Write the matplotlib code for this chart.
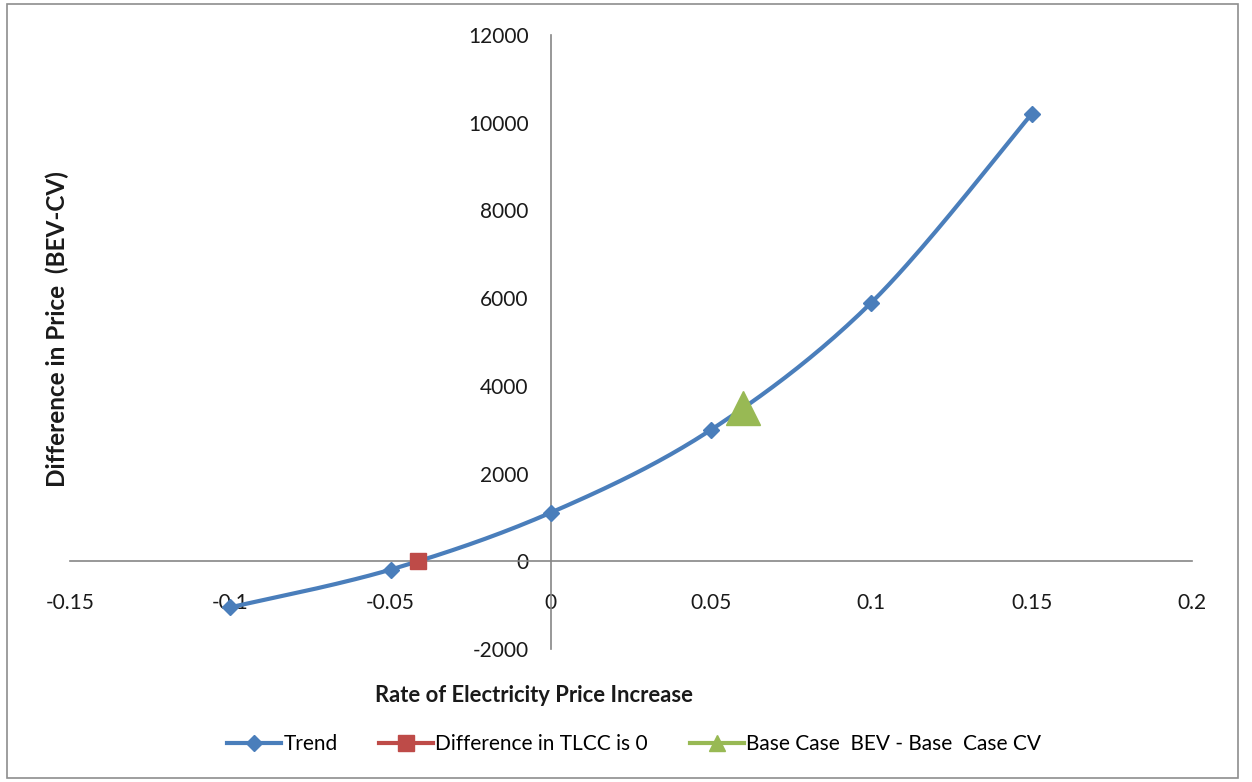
import numpy as np
import matplotlib
matplotlib.use("Agg")
import matplotlib.pyplot as plt
from matplotlib.lines import Line2D
from matplotlib.patches import Rectangle

plt.rcParams['font.family'] = ['Lato', 'DejaVu Sans']

# Rate of electricity price increase vs. price difference (BEV - CV)
rate = [-0.10, -0.05, 0.0, 0.05, 0.10, 0.15]
diff = [-1050, -190, 1110, 3000, 5900, 10200]

zero_rate = [-0.0415]
zero_diff = [0]

base_rate = [0.06]
base_diff = [3500]

x_ticks = [-0.15, -0.1, -0.05, 0, 0.05, 0.1, 0.15, 0.2]
x_tick_labels = ['-0.15', '-0.1', '-0.05', '0', '0.05', '0.1', '0.15', '0.2']
y_ticks = [-2000, 0, 2000, 4000, 6000, 8000, 10000, 12000]
y_tick_labels = ['-2000', '0', '2000', '4000', '6000', '8000', '10000', '12000']

BLUE = '#4A7EBB'
RED = '#BE4B48'
GREEN = '#98B954'
AXIS = '#868686'


def smooth_curve(xs, ys, n=40):
    """Bezier smoothing through the points (spreadsheet-style smoothed line)."""
    p = np.column_stack([xs, ys]).astype(float)
    ext = np.vstack([p[0], p, p[-1]])
    out = []
    t = np.linspace(0, 1, n)[:, None]
    for i in range(len(p) - 1):
        p0, p1 = ext[i + 1], ext[i + 2]
        c1 = p0 + (ext[i + 2] - ext[i]) / 6.0
        c2 = p1 - (ext[i + 3] - ext[i + 1]) / 6.0
        seg = ((1 - t) ** 3) * p0 + 3 * ((1 - t) ** 2) * t * c1 \
            + 3 * (1 - t) * t ** 2 * c2 + t ** 3 * p1
        out.append(seg if i == 0 else seg[1:])
    out = np.vstack(out)
    return out[:, 0], out[:, 1]


fig = plt.figure(figsize=(12.52, 7.82), dpi=100)
W, H = 1252, 782

# chart frame
fig.patches.append(Rectangle((7 / W, 4 / H), (1238 - 7) / W, (778 - 4) / H,
                             transform=fig.transFigure, fill=False,
                             edgecolor='#8E8E8E', linewidth=1.2))

ax = fig.add_axes([70 / W, (H - 649) / H, (1192 - 70) / W, (649 - 35) / H])
ax.set_xlim(-0.15, 0.2)
ax.set_ylim(-2000, 12000)

for s in ('top', 'right'):
    ax.spines[s].set_visible(False)
ax.spines['left'].set_position(('data', 0))
ax.spines['bottom'].set_position(('data', 0))
for s in ('left', 'bottom'):
    ax.spines[s].set_color(AXIS)
    ax.spines[s].set_linewidth(1.2)

ax.set_xticks(x_ticks)
ax.set_xticklabels(x_tick_labels)
ax.set_yticks(y_ticks)
ax.set_yticklabels(y_tick_labels)
ax.tick_params(axis='both', length=0, labelsize=15, labelcolor='#1a1a1a')
ax.tick_params(axis='x', pad=23)
ax.tick_params(axis='y', pad=16)

sx, sy = smooth_curve(rate, diff)
ax.plot(sx, sy, color=BLUE, linewidth=3.0, solid_capstyle='round', zorder=3)
ax.plot(rate, diff, linestyle='none', marker='D', markersize=8,
        color=BLUE, zorder=4)
ax.plot(zero_rate, zero_diff, linestyle='none', marker='s', markersize=12,
        color=RED, zorder=5)
ax.plot(base_rate, base_diff, linestyle='none', marker='^', markersize=25,
        color=GREEN, zorder=5)

fig.text(534 / W, 1 - 695 / H, 'Rate of Electricity Price Increase',
         ha='center', va='center', fontsize=15.8, fontweight='bold', color='#1a1a1a')
fig.text(57 / W, 1 - 329 / H, 'Difference in Price  (BEV-CV)',
         ha='center', va='center', rotation=90, fontsize=17.5,
         fontweight='bold', color='#1a1a1a')

handles = [
    Line2D([], [], color=BLUE, linewidth=3.0, marker='D', markersize=8),
    Line2D([], [], color=RED, linewidth=3.0, marker='s', markersize=11),
    Line2D([], [], color=GREEN, linewidth=3.0, marker='^', markersize=12),
]
labels = ['Trend', 'Difference in TLCC is 0', 'Base Case  BEV - Base  Case CV']
fig.legend(handles, labels, loc='center', bbox_to_anchor=(634 / W, 1 - 744 / H),
           ncol=3, frameon=False, fontsize=15, handlelength=2.6,
           handletextpad=0.1, columnspacing=2.0)

fig.savefig('out.png', dpi=100)
